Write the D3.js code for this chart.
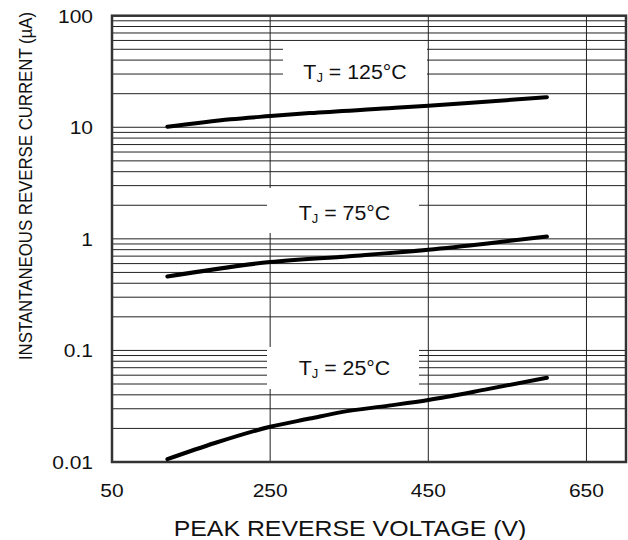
<!DOCTYPE html>
<html>
<head>
<meta charset="utf-8">
<script src="https://cdn.jsdelivr.net/npm/d3@7"></script>
<style>
  body { margin: 0; background: #fff; }
  svg { display: block; font-family: "Liberation Sans", Arial, sans-serif; }
</style>
</head>
<body>
<svg id="chart"></svg>
<script>
// data
const xTicks = [50, 250, 450, 650];
const yTicks = [0.01, 0.1, 1, 10, 100];
const yTickLabels = ["0.01", "0.1", "1", "10", "100"];

const volts125 = [120, 200, 250, 300, 400, 450, 500, 600];
const amps125 = [10.1, 11.8, 12.6, 13.4, 14.8, 15.6, 16.5, 18.6];

const volts75 = [120, 250, 350, 450, 525, 600];
const amps75 = [0.46, 0.62, 0.70, 0.80, 0.91, 1.05];

const volts25 = [120, 180, 250, 300, 340, 400, 450, 525, 600];
const amps25 = [0.0106, 0.0148, 0.0207, 0.0245, 0.028, 0.032, 0.036, 0.045, 0.057];

const curveNames = ["125", "75", "25"];

const W = 628, H = 540;
const plotL = 112, plotR = 626, plotT = 15.7, plotB = 462;
const stretch = 1.13; // reference text is a bit wide

const svg = d3.select("#chart")
    .attr("width", W)
    .attr("height", H);

const x = d3.scaleLinear().domain([50, 700]).range([plotL, plotR]);
const y = d3.scaleLog().domain([0.01, 100]).range([plotB, plotT]);

// horizontal grid: 1..9 in every decade
const grid = [];
for (let d = -2; d < 2; d++) {
    for (let m = 2; m <= 9; m++) grid.push(m * Math.pow(10, d));
}
[0.1, 1, 10].forEach(v => grid.push(v));

svg.append("g")
    .selectAll("line")
    .data(grid)
    .join("line")
    .attr("x1", plotL)
    .attr("x2", plotR)
    .attr("y1", d => y(d))
    .attr("y2", d => y(d))
    .attr("stroke", "#222")
    .attr("stroke-width", 1);

svg.append("g")
    .selectAll("line")
    .data(xTicks.slice(1))
    .join("line")
    .attr("x1", d => x(d))
    .attr("x2", d => x(d))
    .attr("y1", plotT)
    .attr("y2", plotB)
    .attr("stroke", "#222")
    .attr("stroke-width", 1);

// white boxes behind the temperature labels
const boxes = [
    { x0: 283, x1: 427, y0: 45, y1: 92, cx: 355, base: 79, t: "125" },
    { x0: 267, x1: 419, y0: 188, y1: 233, cx: 344.5, base: 220, t: "75" },
    { x0: 267, x1: 419, y0: 347, y1: 389, cx: 344.5, base: 375, t: "25" }
];
svg.append("g")
    .selectAll("rect")
    .data(boxes)
    .join("rect")
    .attr("x", d => d.x0)
    .attr("y", d => d.y0)
    .attr("width", d => d.x1 - d.x0)
    .attr("height", d => d.y1 - d.y0)
    .attr("fill", "#fff");

const labels = svg.append("g")
    .selectAll("text")
    .data(boxes)
    .join("text")
    .attr("transform", d => `translate(${d.cx},${d.base}) scale(1.04,1)`)
    .attr("text-anchor", "middle")
    .attr("font-size", 20.5)
    .attr("fill", "#111");
labels.append("tspan").text("T");
labels.append("tspan").attr("font-size", 12.5).attr("dy", 3).text("J");
labels.append("tspan").attr("dy", -3).text(d => ` = ${d.t}°C`);

// frame
svg.append("rect")
    .attr("x", plotL)
    .attr("y", plotT)
    .attr("width", plotR - plotL)
    .attr("height", plotB - plotT)
    .attr("fill", "none")
    .attr("stroke", "#333")
    .attr("stroke-width", 2.5);

// curves
const line = d3.line()
    .x(d => x(d[0]))
    .y(d => y(d[1]))
    .curve(d3.curveMonotoneX);

const series = [
    d3.zip(volts125, amps125),
    d3.zip(volts75, amps75),
    d3.zip(volts25, amps25)
];

svg.append("g")
    .selectAll("path")
    .data(series)
    .join("path")
    .attr("class", (d, i) => "tj" + curveNames[i])
    .attr("d", line)
    .attr("fill", "none")
    .attr("stroke", "#000")
    .attr("stroke-width", 4)
    .attr("stroke-linecap", "round");

// tick labels
svg.append("g")
    .selectAll("text")
    .data(xTicks)
    .join("text")
    .attr("transform", d => `translate(${x(d)},497) scale(${stretch},1)`)
    .attr("text-anchor", "middle")
    .attr("font-size", 18.6)
    .attr("fill", "#111")
    .text(d => d);

svg.append("g")
    .selectAll("text")
    .data(yTicks)
    .join("text")
    .attr("transform", d => `translate(93,${y(d) + 7}) scale(${stretch},1)`)
    .attr("text-anchor", "end")
    .attr("font-size", 18.6)
    .attr("fill", "#111")
    .text((d, i) => yTickLabels[i]);

// axis titles
svg.append("text")
    .attr("transform", `translate(350,536) scale(${stretch},1)`)
    .attr("text-anchor", "middle")
    .attr("font-size", 22)
    .attr("fill", "#111")
    .text("PEAK REVERSE VOLTAGE (V)");

svg.append("text")
    .attr("transform", `translate(32,186) scale(${stretch},1) rotate(-90)`)
    .attr("text-anchor", "middle")
    .attr("font-size", 16.8)
    .attr("fill", "#111")
    .text("INSTANTANEOUS REVERSE CURRENT (µA)");
</script>
</body>
</html>
